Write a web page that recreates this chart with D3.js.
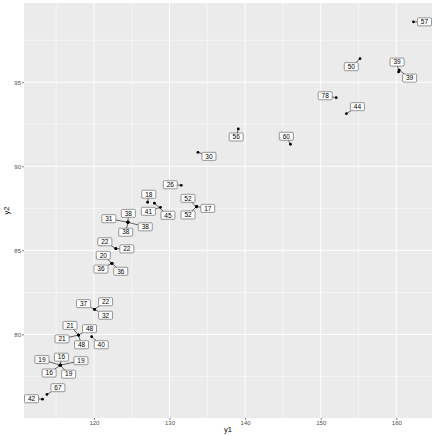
<!DOCTYPE html>
<html>
<head>
<meta charset="utf-8">
<script src="https://cdn.jsdelivr.net/npm/d3@7"></script>
<style>
  html, body { margin: 0; padding: 0; background: #fff; }
  svg { display: block; font-family: "Liberation Sans", Arial, sans-serif; }
</style>
</head>
<body>
<div id="chart"></div>
<script>
// values (y1 on x, y2 on y, label = id)
const Y1 = [162.27, 155.2, 160.3, 160.4, 152.05, 153.4, 139.1, 146.0, 133.76, 131.55,
            127.1, 128.0, 128.8, 133.57, 133.6, 133.55,
            124.5, 124.5, 124.5, 124.5, 122.9, 122.9, 122.38, 122.38, 122.38,
            120.08, 120.08, 120.08, 117.96, 117.96, 117.96, 117.96, 119.7,
            115.54, 115.54, 115.54, 115.54, 115.54, 113.2, 113.78];
const Y2 = [98.59, 96.4, 95.61, 95.72, 94.08, 93.13, 92.22, 91.31, 90.83, 88.87,
            87.86, 87.8, 87.56, 87.6, 87.62, 87.58,
            86.67, 86.67, 86.67, 86.67, 85.1, 85.1, 84.23, 84.23, 84.23,
            81.49, 81.49, 81.49, 79.96, 79.96, 79.96, 79.96, 79.86,
            78.17, 78.17, 78.17, 78.17, 78.17, 76.15, 76.43];
const LABELS = ["57", "50", "39", "39", "78", "44", "56", "60", "30", "26",
                "18", "45", "41", "17", "52", "52",
                "38", "31", "38", "38", "22", "22", "36", "20", "36",
                "37", "22", "32", "21", "48", "21", "48", "40",
                "19", "19", "16", "16", "19", "42", "67"];
const X_TICKS = [120, 130, 140, 150, 160];
const Y_TICKS = [80, 85, 90, 95];

const W = 436, H = 436;
const margin = { top: 3, right: 4, bottom: 18, left: 24 };
const pw = W - margin.left - margin.right;
const ph = H - margin.top - margin.bottom;

function padded(ext) {
  const d = (ext[1] - ext[0]) * 0.05;
  return [ext[0] - d, ext[1] + d];
}

const x = d3.scaleLinear().domain(padded(d3.extent(Y1))).range([0, pw]);
const y = d3.scaleLinear().domain(padded(d3.extent(Y2))).range([ph, 0]);

const svg = d3.select("#chart").append("svg")
  .attr("width", W).attr("height", H);

const g = svg.append("g")
  .attr("transform", `translate(${margin.left},${margin.top})`);

// panel
g.append("rect").attr("width", pw).attr("height", ph).attr("fill", "#ebebeb");

// minor grid
const xMinor = X_TICKS.map(t => t - 5).concat([X_TICKS[X_TICKS.length - 1] + 5])
  .filter(t => x(t) > 0 && x(t) < pw);
const yMinor = Y_TICKS.map(t => t - 2.5).concat([Y_TICKS[Y_TICKS.length - 1] + 2.5])
  .filter(t => y(t) > 0 && y(t) < ph);

g.selectAll(".xminor").data(xMinor).join("line")
  .attr("x1", d => x(d)).attr("x2", d => x(d)).attr("y1", 0).attr("y2", ph)
  .attr("stroke", "#fff").attr("stroke-width", 0.5);
g.selectAll(".yminor").data(yMinor).join("line")
  .attr("y1", d => y(d)).attr("y2", d => y(d)).attr("x1", 0).attr("x2", pw)
  .attr("stroke", "#fff").attr("stroke-width", 0.5);

// major grid
g.selectAll(".xmajor").data(X_TICKS).join("line")
  .attr("x1", d => x(d)).attr("x2", d => x(d)).attr("y1", 0).attr("y2", ph)
  .attr("stroke", "#fff").attr("stroke-width", 1);
g.selectAll(".ymajor").data(Y_TICKS).join("line")
  .attr("y1", d => y(d)).attr("y2", d => y(d)).attr("x1", 0).attr("x2", pw)
  .attr("stroke", "#fff").attr("stroke-width", 1);

// axes
const xAxis = g.append("g").attr("transform", `translate(0,${ph})`)
  .call(d3.axisBottom(x).tickValues(X_TICKS).tickSize(2).tickPadding(1));
const yAxis = g.append("g")
  .call(d3.axisLeft(y).tickValues(Y_TICKS).tickSize(2).tickPadding(1));
[xAxis, yAxis].forEach(a => {
  a.select(".domain").remove();
  a.selectAll(".tick line").attr("stroke", "#333").attr("stroke-width", 0.6);
  a.selectAll(".tick text").attr("fill", "#4d4d4d")
    .style("font-size", "6px").style("font-family", "Liberation Sans, Arial, sans-serif");
});

svg.append("text")
  .attr("x", margin.left + pw / 2).attr("y", H - 4)
  .attr("text-anchor", "middle").style("font-size", "7.5px").text("y1");
svg.append("text")
  .attr("transform", `translate(9,${margin.top + ph / 2}) rotate(-90)`)
  .attr("text-anchor", "middle").style("font-size", "7.5px").text("y2");

// --- repelled labels (ggrepel-like) ---
const BW = 14, BH = 8, PAD = 5.5, PT_PAD = 4;
const pts = Y1.map((v, i) => ({ px: x(v), py: y(Y2[i]) }));
const nodes = pts.map((p, i) => ({
  i, px: p.px, py: p.py,
  x: p.px + Math.cos(i * 2.39996) * 7,
  y: p.py + Math.sin(i * 2.39996) * 7
}));

function forceBoxes() {
  let ns;
  function force() {
    for (let a = 0; a < ns.length; a++) {
      for (let b = a + 1; b < ns.length; b++) {
        const A = ns[a], B = ns[b];
        let dx = B.x - A.x, dy = B.y - A.y;
        const ox = BW + PAD - Math.abs(dx), oy = BH + PAD - Math.abs(dy);
        if (ox > 0 && oy > 0) {
          if (dx === 0 && dy === 0) { dx = Math.cos(a + b); dy = Math.sin(a + b); }
          const l = Math.hypot(dx, dy);
          const m = Math.min(ox, oy) * 0.15;
          A.vx -= dx / l * m; A.vy -= dy / l * m;
          B.vx += dx / l * m; B.vy += dy / l * m;
        }
      }
      // keep off the points
      const A = ns[a];
      pts.forEach(p => {
        let dx = A.x - p.px, dy = A.y - p.py;
        const ox = BW / 2 + PT_PAD - Math.abs(dx), oy = BH / 2 + PT_PAD - Math.abs(dy);
        if (ox > 0 && oy > 0) {
          if (dx === 0 && dy === 0) { dx = Math.cos(a); dy = Math.sin(a); }
          const l = Math.hypot(dx, dy);
          const m = Math.min(ox, oy) * 0.15;
          A.vx += dx / l * m; A.vy += dy / l * m;
        }
      });
    }
  }
  force.initialize = n => { ns = n; };
  return force;
}

const sim = d3.forceSimulation(nodes)
  .alphaDecay(0.01)
  .force("x", d3.forceX(d => d.px).strength(0.01))
  .force("y", d3.forceY(d => d.py).strength(0.01))
  .force("boxes", forceBoxes())
  .stop();
for (let k = 0; k < 700; k++) {
  sim.tick();
  nodes.forEach(n => {
    n.x = Math.max(BW / 2, Math.min(pw - BW / 2, n.x));
    n.y = Math.max(BH / 2, Math.min(ph - BH / 2, n.y));
  });
}

// segments from point to box edge
nodes.forEach(n => {
  const dx = n.px - n.x, dy = n.py - n.y;
  const tx = dx === 0 ? Infinity : (BW / 2) / Math.abs(dx);
  const ty = dy === 0 ? Infinity : (BH / 2) / Math.abs(dy);
  const t = Math.min(tx, ty, 1);
  n.ex = n.x + dx * t; n.ey = n.y + dy * t;
  n.seg = Math.hypot(n.px - n.ex, n.py - n.ey);
});

g.selectAll(".seg").data(nodes.filter(n => n.seg > 2.5)).join("line")
  .attr("x1", d => d.px).attr("y1", d => d.py)
  .attr("x2", d => d.ex).attr("y2", d => d.ey)
  .attr("stroke", "#000").attr("stroke-width", 0.6);

g.selectAll(".pt").data(pts).join("circle")
  .attr("cx", d => d.px).attr("cy", d => d.py).attr("r", 1.4).attr("fill", "#000");

const lab = g.selectAll(".lab").data(nodes).join("g")
  .attr("transform", d => `translate(${d.x},${d.y})`);
lab.append("rect")
  .attr("x", -BW / 2).attr("y", -BH / 2).attr("width", BW).attr("height", BH)
  .attr("rx", 1).attr("fill", "#fff").attr("stroke", "#555").attr("stroke-width", 0.6);
lab.append("text")
  .attr("text-anchor", "middle").attr("dy", "0.35em")
  .style("font-size", "6.5px").attr("fill", "#000")
  .text(d => LABELS[d.i]);
</script>
</body>
</html>
